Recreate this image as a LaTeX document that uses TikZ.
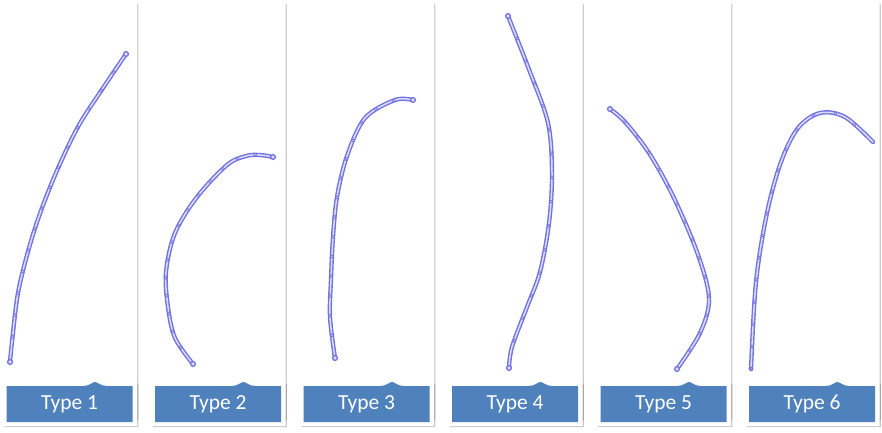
\documentclass[tikz,border=0pt]{standalone}
\usepackage{fontspec}
\setmainfont{Carlito}
\usetikzlibrary{shadows,decorations.markings}
\definecolor{barblue}{HTML}{4F81BD}
\definecolor{curvecol}{HTML}{7272E0}
\definecolor{curvein}{HTML}{DCDCF8}
\newcommand\mycurve[1]{%
  \draw[curve] plot[smooth,tension=0.55] coordinates {#1};
  \path[postaction={decorate, decoration={markings, mark=between positions 0.066 and 0.95 step 0.066 with {\draw[mk] (0,0) circle (1.5pt);}}}] plot[smooth,tension=0.55] coordinates {#1};}
\newcommand\mypanel[3]{% #1 left, #2 index, #3 name
  \path[panelbox] (#1,2) rectangle (#1+134,420);
  \path[labelbox] (#1,382.5) -- (#1+80,382.5) .. controls (#1+87,382.5) and (#1+89,378.5) .. (#1+92,378.5) .. controls (#1+95,378.5) and (#1+97,382.5) .. (#1+104,382.5) -- (#1+134,382.5) -- (#1+134,426) -- (#1,426) -- cycle;
  \fill[barblue] (#1+3.5,386) -- (#1+80,386) .. controls (#1+87,386) and (#1+89,382) .. (#1+92,382) .. controls (#1+95,382) and (#1+97,386) .. (#1+104,386) -- (#1+129.5,386) -- (#1+129.5,422) -- (#1+3.5,422) -- cycle;
  \node[labeltext] (#3) at (#1+66.5,404) {Type #2};}
\begin{document}
\begin{tikzpicture}[x=1pt,y=-1pt,
  panelbox/.style={fill=white, rounded corners=2pt, drop shadow={shadow xshift=1.3pt, shadow yshift=-1pt, opacity=0.28, fill=black!70}},
  labelbox/.style={fill=white, drop shadow={shadow xshift=1.3pt, shadow yshift=-1.2pt, opacity=0.3, fill=black!70}},
  labeltext/.style={text=white, font=\fontsize{21.5}{24}\selectfont, inner sep=0pt},
  curve/.style={draw=curvecol, line width=1.4pt, double=curvein, double distance=1.5pt, line cap=round, line join=round},
  mk/.style={draw=curvecol, fill=curvein, line width=0.7pt},
  endpt/.style={draw=curvecol, fill=curvein, line width=1.3pt}]
\useasboundingbox (0,0) rectangle (882,432);
\fill[white] (0,0) rectangle (882,432);

\mypanel{3}{1}{t1}
\mypanel{151.5}{2}{t2}
\mypanel{300}{3}{t3}
\mypanel{448.5}{4}{t4}
\mypanel{597}{5}{t5}
\mypanel{745.5}{6}{t6}

% Type 1
\mycurve{(126,54) (103,88) (79,125) (59,166) (42,208) (29,248) (18,293) (12,342) (10,362)}
\draw[endpt] (126,54) circle (2.4pt) (10,362) circle (2.4pt);
% Type 2
\mycurve{(273,157) (260,155) (246,156) (227,165) (197,197) (175,233) (166,272) (168,307) (175,338) (193,364)}
\draw[endpt] (273,157) circle (2.4pt) (193,364) circle (2.4pt);
% Type 3
\mycurve{(413,100) (395,100) (365,118) (347,156) (337,197) (333,237) (331,279) (330,317) (335,358)}
\draw[endpt] (413,100) circle (2.4pt) (335,358) circle (2.4pt);
% Type 4
\mycurve{(508,16) (530,72) (548,123) (552,173) (549,223) (540,272) (527,307) (512,347) (509,368)}
\draw[endpt] (508,16) circle (2.4pt) (509,368) circle (2.4pt);
% Type 5
\mycurve{(610,109) (625,122) (649,153) (673,196) (697,252) (709,298) (700,333) (677,369)}
\draw[endpt] (610,109) circle (2.4pt) (677,369) circle (2.4pt);
% Type 6
\mycurve{(751,369) (756,282) (767,213) (781,162) (798,128) (820,113) (845,117) (873,142)}
\draw[endpt] (751,369) circle (1.8pt);
\end{tikzpicture}
\end{document}
